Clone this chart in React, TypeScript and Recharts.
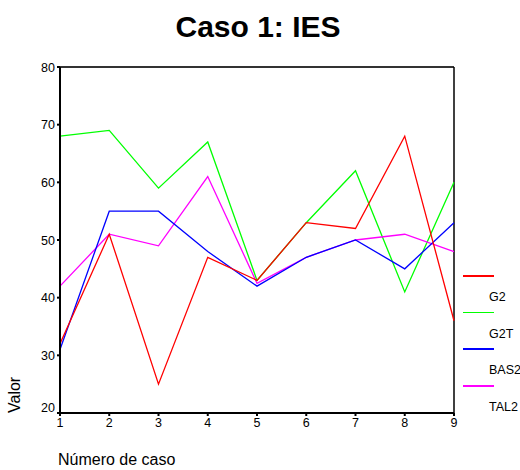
import { LineChart, Line, XAxis, YAxis, ReferenceLine } from 'recharts'

const casos = [1, 2, 3, 4, 5, 6, 7, 8, 9]
const g2 = [32, 51, 25, 47, 43, 53, 52, 68, 36]
const g2t = [68, 69, 59, 67, 43, 53, 62, 41, 60]
const bas2 = [31, 55, 55, 48, 42, 47, 50, 45, 53]
const tal2 = [42, 51, 49, 61, 42.5, 47, 50, 51, 48]
const yTicks = [20, 30, 40, 50, 60, 70, 80]

const series = [
  { key: 'G2', color: '#ff0000' },
  { key: 'G2T', color: '#00ff00' },
  { key: 'BAS2', color: '#0000ff' },
  { key: 'TAL2', color: '#ff00ff' },
]

// orden de dibujo: el rojo queda encima
const drawOrder = ['G2T', 'TAL2', 'BAS2', 'G2']

const data = casos.map((c, i) => ({
  caso: c,
  G2: g2[i],
  G2T: g2t[i],
  BAS2: bas2[i],
  TAL2: tal2[i],
}))

const FONT = '"Liberation Sans", Arial, sans-serif'

function YTick({ x, y, payload }: any) {
  // SPSS sube un poco la etiqueta del mínimo
  const dy = payload.value === 20 ? -6 : 0
  return (
    <text x={x} y={y + dy} dy={4.5} textAnchor="end" fontSize={12.5} fill="#000" fontFamily={FONT}>
      {payload.value}
    </text>
  )
}

export default function App() {
  const colorOf = (k: string) => series.find((s) => s.key === k)!.color
  return (
    <div style={{ position: 'absolute', left: 0, top: 0, width: 520, height: 470, background: '#fff', fontFamily: FONT }}>
      <div
        style={{
          position: 'absolute',
          left: 0,
          width: 516,
          top: 10,
          textAlign: 'center',
          fontSize: 30,
          fontWeight: 'bold',
          lineHeight: '34px',
        }}
      >
        Caso 1: IES
      </div>

      <LineChart width={520} height={470} data={data} margin={{ top: 67, right: 66, bottom: 27, left: 0 }}>
        <XAxis
          dataKey="caso"
          type="number"
          domain={[1, 9]}
          ticks={casos}
          height={30}
          stroke="#000"
          axisLine={{ stroke: '#000', strokeWidth: 2 }}
          tickLine={{ stroke: '#000', strokeWidth: 2 }}
          tickSize={3}
          tick={{ fontSize: 12.5, fill: '#000', fontFamily: FONT }}
        />
        <YAxis
          type="number"
          domain={[20, 80]}
          ticks={yTicks}
          width={60}
          stroke="#000"
          axisLine={{ stroke: '#000', strokeWidth: 2 }}
          tickLine={{ stroke: '#000', strokeWidth: 2 }}
          tickSize={3}
          tick={<YTick />}
        />
        <ReferenceLine y={80} stroke="#333" strokeWidth={2} />
        <ReferenceLine x={9} stroke="#000" strokeWidth={1.5} />
        {drawOrder.map((k) => (
          <Line
            key={k}
            dataKey={k}
            stroke={colorOf(k)}
            strokeWidth={1.3}
            dot={false}
            activeDot={false}
            type="linear"
            isAnimationActive={false}
          />
        ))}
      </LineChart>

      {/* Leyenda: línea y debajo el nombre */}
      {series.map((s, i) => (
        <div key={s.key}>
          <div
            style={{
              position: 'absolute',
              left: 463,
              top: 275 + i * 36.7,
              width: 31,
              height: 1.5,
              background: s.color,
            }}
          />
          <div
            style={{
              position: 'absolute',
              left: 489,
              top: 290 + i * 36.7,
              fontSize: 12.5,
              lineHeight: '15px',
            }}
          >
            {s.key}
          </div>
        </div>
      ))}

      <div
        style={{
          position: 'absolute',
          left: 15,
          top: 413,
          fontSize: 16,
          lineHeight: '16px',
          whiteSpace: 'nowrap',
          transform: 'rotate(-90deg)',
          transformOrigin: '0 0',
          marginLeft: -8,
        }}
      >
        Valor
      </div>

      <div style={{ position: 'absolute', left: 58, top: 451, fontSize: 16, lineHeight: '17px', whiteSpace: 'nowrap' }}>
        Número de caso
      </div>
    </div>
  )
}
